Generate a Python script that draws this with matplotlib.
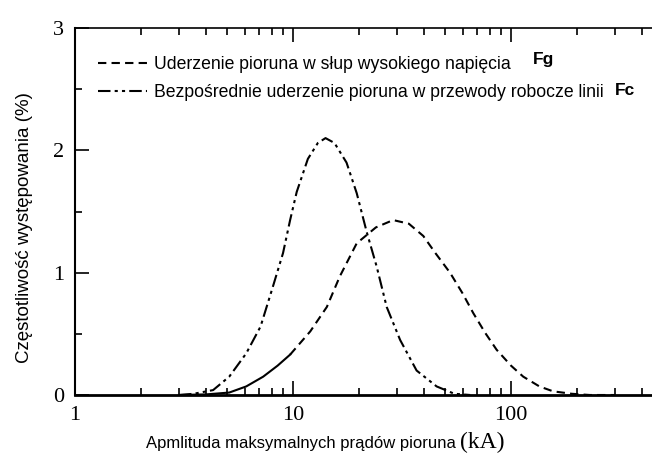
import numpy as np
import matplotlib
matplotlib.use("Agg")
import matplotlib.pyplot as plt
from matplotlib.ticker import FixedLocator, FixedFormatter, LogLocator, NullFormatter

# lightning current amplitude (kA) and frequency of occurrence (%)
fc_x = [3.0, 3.5, 4.3, 5.1, 6.1, 7.1, 8.1, 9.0, 9.7, 10.4, 11.7, 13.0, 14.1,
        15.5, 17.6, 19.6, 21.8, 24.2, 26.9, 31.0, 36.9, 45.6, 55.0, 65.0]
fc_y = [0.0, 0.01, 0.04, 0.15, 0.34, 0.56, 0.89, 1.16, 1.43, 1.66, 1.93, 2.06, 2.10,
        2.06, 1.90, 1.65, 1.33, 1.05, 0.72, 0.45, 0.20, 0.07, 0.01, 0.0]

fg_x = [3.0, 4.0, 5.1, 6.1, 7.3, 8.5, 9.7, 12.0, 14.3, 16.4, 19.6, 24.0, 28.8,
        34.0, 39.6, 45.0, 52.5, 60.0, 67.1, 76.0, 85.9, 100.0, 113.8, 135.0,
        156.0, 190.0, 230.0, 300.0]
fg_y = [0.0, 0.005, 0.02, 0.07, 0.15, 0.24, 0.33, 0.52, 0.72, 0.97, 1.24, 1.37, 1.43,
        1.40, 1.30, 1.16, 1.00, 0.83, 0.67, 0.51, 0.37, 0.24, 0.15, 0.07,
        0.03, 0.01, 0.0, 0.0]

x_ticks = [1, 10, 100]
x_tick_labels = ["1", "10", "100"]
y_ticks = [0, 1, 2, 3]
y_tick_labels = ["0", "1", "2", "3"]

label_fg = "Uderzenie pioruna w słup wysokiego napięcia"
label_fc = "Bezpośrednie uderzenie pioruna w przewody robocze linii"

dashed = (0, (4, 2.5))
dashdotdot = (0, (6, 2, 1.5, 2, 1.5, 2))

fig = plt.figure(figsize=(6.52, 4.57), dpi=100)
ax = fig.add_axes([75 / 652, 62 / 457, 1 - 75 / 652, 367 / 457])

# Fg: low part drawn solid, rest dashed (as in the original)
ax.plot(fg_x[:7], fg_y[:7], color="black", lw=1.5, ls="-")
l_fg, = ax.plot(fg_x[6:], fg_y[6:], color="black", lw=1.5, ls=dashed)
l_fc, = ax.plot(fc_x, fc_y, color="black", lw=1.5, ls=dashdotdot)

ax.set_xscale("log")
ax.set_xlim(1, 10 ** ((652 - 75) / 218))
ax.set_ylim(0, 3)

ax.xaxis.set_major_locator(FixedLocator(x_ticks))
ax.xaxis.set_major_formatter(FixedFormatter(x_tick_labels))
ax.xaxis.set_minor_locator(LogLocator(base=10, subs=np.arange(2, 10), numticks=20))
ax.xaxis.set_minor_formatter(NullFormatter())
ax.yaxis.set_major_locator(FixedLocator(y_ticks))
ax.yaxis.set_major_formatter(FixedFormatter(y_tick_labels))
ax.yaxis.set_minor_locator(FixedLocator([0.5, 1.5, 2.5]))

ax.tick_params(which="both", direction="in", top=True, right=False, width=1.2)
ax.tick_params(which="major", length=10, pad=8)
ax.tick_params(which="minor", length=5)
for lab in ax.get_xticklabels() + ax.get_yticklabels():
    lab.set_fontfamily("Liberation Serif")
    lab.set_fontsize(16)

ax.spines["right"].set_visible(False)
ax.spines["left"].set_linewidth(1.5)
ax.spines["top"].set_linewidth(1.2)
ax.spines["bottom"].set_linewidth(2.0)

leg = ax.legend([l_fg, l_fc], [label_fg, label_fc], loc="upper left",
                bbox_to_anchor=(0.024, 0.948), frameon=False, borderpad=0,
                handlelength=2.8, handletextpad=0.4, labelspacing=0.65,
                prop={"family": "Liberation Sans", "size": 12.7})

ax.text(0.794, 0.913, "Fg", transform=ax.transAxes, ha="left", va="center",
        fontsize=12.5, fontweight="bold", family="Liberation Sans")
ax.text(0.936, 0.831, "Fc", transform=ax.transAxes, ha="left", va="center",
        fontsize=12.5, fontweight="bold", family="Liberation Sans")

fig.text(456 / 652, 1 - 448 / 457, "Apmlituda maksymalnych prądów pioruna",
         ha="right", va="baseline", fontsize=12, family="Liberation Sans")
fig.text(460 / 652, 1 - 448 / 457, "(kA)", ha="left", va="baseline",
         fontsize=17, family="Liberation Serif")
fig.text(25 / 652, 1 - 228 / 457, "Częstotliwość występowania (%)", rotation=90,
         ha="center", va="center", fontsize=13.5, family="Liberation Sans")

fig.savefig("out.png", dpi=100)
